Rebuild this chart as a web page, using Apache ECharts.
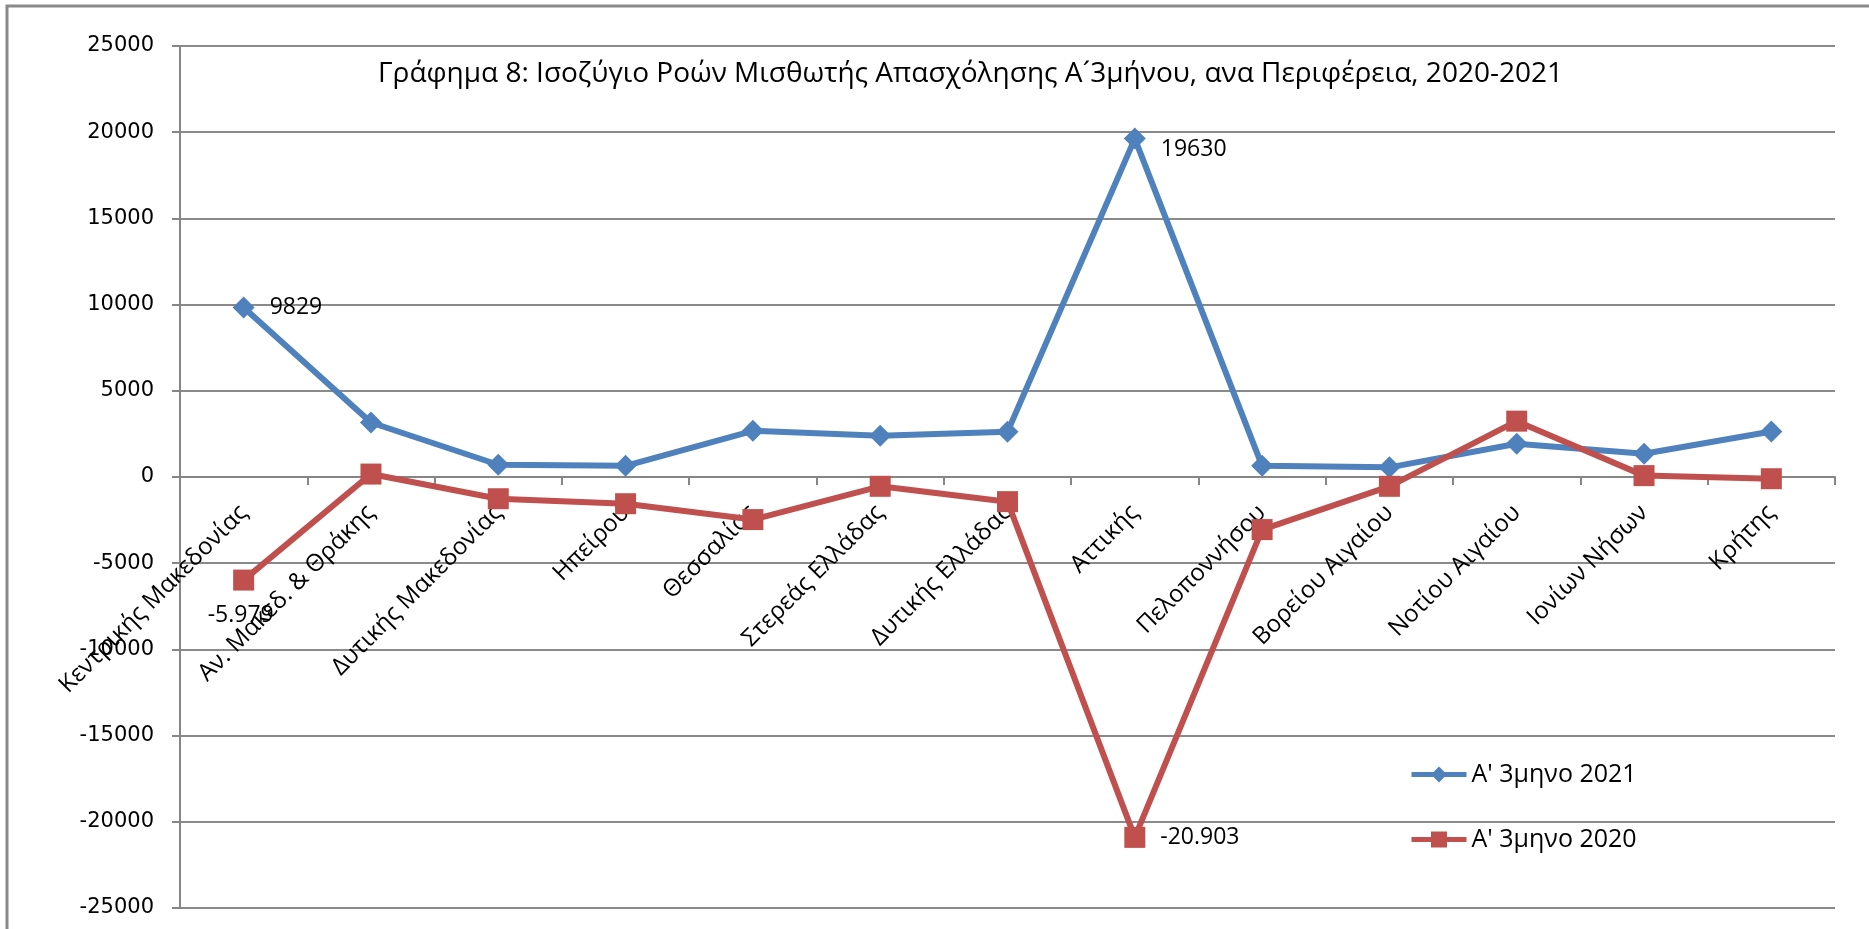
<!DOCTYPE html>
<html>
<head>
<meta charset="utf-8">
<title>Γράφημα 8</title>
<script src="https://cdn.jsdelivr.net/npm/echarts@6/dist/echarts.min.js"></script>
<style>
  html, body { margin: 0; padding: 0; background: #fff; }
  #chart { width: 1869px; height: 929px; }
</style>
</head>
<body>
<div id="chart"></div>
<script>
// Περιφέρειες
const categories = [
  'Κεντρικής Μακεδονίας', 'Αν. Μακεδ. & Θράκης', 'Δυτικής Μακεδονίας', 'Ηπείρου',
  'Θεσσαλίας', 'Στερεάς Ελλάδας', 'Δυτικής Ελλάδας', 'Αττικής', 'Πελοποννήσου',
  'Βορείου Αιγαίου', 'Νοτίου Αιγαίου', 'Ιονίων Νήσων', 'Κρήτης'
]
const values2021 = [9829, 3160, 710, 650, 2680, 2390, 2620, 19630, 650, 560, 1930, 1350, 2640]
const values2020 = [-5979, 170, -1260, -1550, -2470, -540, -1430, -20903, -3050, -540, 3240, 80, -100]
const yTicks = { min: -25000, max: 25000, interval: 5000 }
// σημεία με ετικέτα τιμής
const labelled = [0, 7]

const textFont = '"Open Sans", "Noto Sans", sans-serif'
const gridTop = 46, gridBottom = 21
const plotHeight = 929 - gridTop - gridBottom

// τελεία ως διαχωριστικό χιλιάδων, όπως στο πρωτότυπο
function greekNum(v) {
  const s = Math.abs(v).toString().replace(/\B(?=(\d{3})+(?!\d))/g, '.')
  return (v < 0 ? '-' : '') + s
}

function buildData(values, labelFor) {
  return values.map((v, i) => {
    if (labelled.indexOf(i) < 0) return v
    return { value: v, label: labelFor(i) }
  })
}

const blueData = buildData(values2021, i => ({
  show: true,
  position: 'right',
  distance: 15,
  offset: i === 7 ? [0, 11] : [0, 0],
  formatter: p => String(p.value)
}))

const redData = buildData(values2020, i => (i === 0
  ? { show: true, position: 'bottom', distance: 13, offset: [-3, 0], formatter: p => greekNum(p.value) }
  : { show: true, position: 'right', distance: 15, formatter: p => greekNum(p.value) }))

// ο άξονας κατηγοριών κάθεται στο μηδέν (μέση του εύρους)
const zeroOffset = -plotHeight * (yTicks.max / (yTicks.max - yTicks.min))

const chart = echarts.init(document.getElementById('chart'))
chart.setOption({
  animation: false,
  backgroundColor: '#fff',
  title: {
    text: 'Γράφημα 8: Ισοζύγιο Ροών Μισθωτής Απασχόλησης Α\u00B43μήνου, ανα Περιφέρεια, 2020-2021',
    left: 373,
    top: 55,
    textStyle: { fontFamily: textFont, fontSize: 28, fontWeight: 'normal', color: '#000' }
  },
  // πλαίσιο γραφήματος (μόνο αριστερά και πάνω είναι ορατά)
  graphic: [{
    type: 'rect',
    shape: { x: 7, y: 6, width: 2000, height: 1000 },
    style: { fill: 'none', stroke: '#8a8a8a', lineWidth: 3 },
    silent: true
  }],
  legend: {
    orient: 'vertical',
    left: 1404,
    top: 757,
    itemWidth: 55,
    itemHeight: 20,
    itemGap: 40,
    lineStyle: { width: 5 },
    textStyle: { fontFamily: textFont, fontSize: 25, color: '#000' },
    data: ['Α\' 3μηνο 2021', 'Α\' 3μηνο 2020']
  },
  grid: { left: 180, right: 34, top: gridTop, bottom: gridBottom, containLabel: false, outerBoundsMode: 'none' },
  xAxis: {
    type: 'category',
    data: categories,
    boundaryGap: true,
    position: 'bottom',
    offset: zeroOffset,
    axisLine: { onZero: false, lineStyle: { color: '#868686', width: 2 } },
    axisTick: { show: true, length: 8, lineStyle: { color: '#868686', width: 2 } },
    axisLabel: {
      rotate: 45,
      margin: 32,
      interval: 0,
      hideOverlap: false,
      fontFamily: textFont,
      fontSize: 24,
      color: '#000'
    },
    splitLine: { show: false }
  },
  yAxis: {
    type: 'value',
    min: yTicks.min,
    max: yTicks.max,
    interval: yTicks.interval,
    axisLine: { show: true, lineStyle: { color: '#868686', width: 2 } },
    axisTick: { show: true, length: 8, lineStyle: { color: '#868686', width: 2 } },
    axisLabel: {
      margin: 26,
      fontFamily: '"DejaVu Sans", sans-serif',
      fontSize: 21,
      color: '#000',
      formatter: v => String(v)
    },
    splitLine: { show: true, lineStyle: { color: '#8a8a8a', width: 2 } }
  },
  series: [
    {
      name: 'Α\' 3μηνο 2021',
      type: 'line',
      data: blueData,
      symbol: 'diamond',
      symbolSize: 22,
      lineStyle: { color: '#4F81BD', width: 6 },
      itemStyle: { color: '#4F81BD' },
      label: { fontFamily: textFont, fontSize: 23, color: '#000' },
      z: 2
    },
    {
      name: 'Α\' 3μηνο 2020',
      type: 'line',
      data: redData,
      symbol: 'rect',
      symbolSize: 21,
      lineStyle: { color: '#C0504D', width: 6 },
      itemStyle: { color: '#C0504D' },
      label: { fontFamily: textFont, fontSize: 23, color: '#000' },
      z: 3
    }
  ]
})
</script>
</body>
</html>
